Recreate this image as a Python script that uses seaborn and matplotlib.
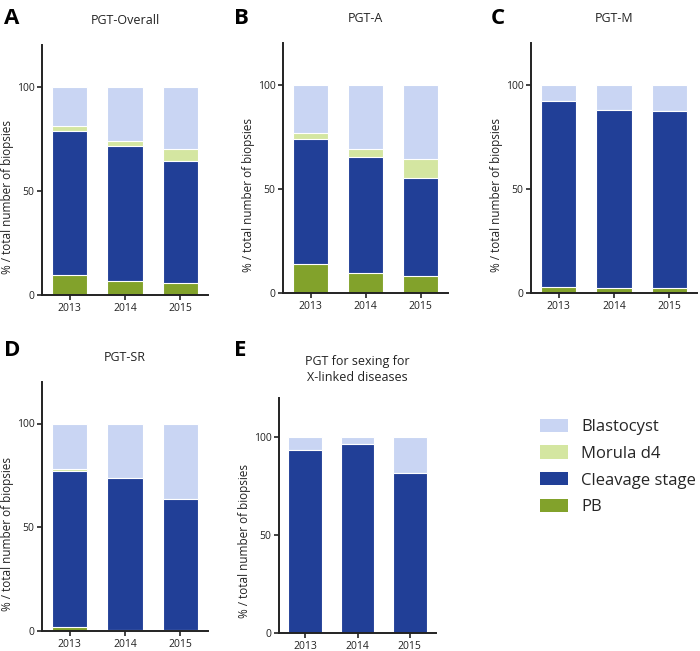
import matplotlib
matplotlib.use("Agg")
import matplotlib.pyplot as plt
from matplotlib.patches import Patch
import seaborn as sns
import pandas as pd
import numpy as np

sns.set_style("white")
plt.rcParams['font.family'] = ['Open Sans', 'DejaVu Sans']

years = ["2013", "2014", "2015"]
stages = ["Blastocyst", "Morula d4", "Cleavage stage", "PB"]
colors = {"Blastocyst": "#C9D5F3", "Morula d4": "#D4E6A1",
          "Cleavage stage": "#213F97", "PB": "#82A22B"}

# Panel A: PGT-Overall
A_pb = [9.6, 6.8, 5.6]
A_cleavage = [69.3, 64.9, 58.5]
A_morula = [2.0, 2.1, 5.8]
A_blastocyst = [19.1, 26.2, 30.1]
# Panel B: PGT-A
B_pb = [14.1, 9.8, 8.3]
B_cleavage = [59.9, 55.7, 46.8]
B_morula = [3.0, 3.4, 9.1]
B_blastocyst = [23.0, 31.1, 35.8]
# Panel C: PGT-M
C_pb = [3.0, 2.6, 2.6]
C_cleavage = [89.0, 85.2, 84.9]
C_morula = [0.0, 0.0, 0.0]
C_blastocyst = [8.0, 12.2, 12.5]
# Panel D: PGT-SR
D_pb = [2.1, 0.6, 0.6]
D_cleavage = [75.2, 73.0, 63.2]
D_morula = [1.0, 0.0, 0.0]
D_blastocyst = [21.7, 26.4, 36.2]
# Panel E: PGT for sexing for X-linked diseases
E_pb = [0.0, 0.0, 0.0]
E_cleavage = [93.5, 96.4, 81.7]
E_morula = [0.0, 0.0, 0.0]
E_blastocyst = [6.5, 3.6, 18.3]

panels = [
    ("A", "PGT-Overall", A_pb, A_cleavage, A_morula, A_blastocyst),
    ("B", "PGT-A", B_pb, B_cleavage, B_morula, B_blastocyst),
    ("C", "PGT-M", C_pb, C_cleavage, C_morula, C_blastocyst),
    ("D", "PGT-SR", D_pb, D_cleavage, D_morula, D_blastocyst),
    ("E", "PGT for sexing for\nX-linked diseases", E_pb, E_cleavage, E_morula, E_blastocyst),
]

W, H = 700, 651
fig = plt.figure(figsize=(7.0, 6.51), dpi=100)

# axes rects in pixels: left, top, right, bottom
rects = {
    "A": (42, 45, 208, 295),
    "B": (283, 43, 448, 293),
    "C": (531, 43, 697, 293),
    "D": (42, 382, 208, 631),
    "E": (279, 398, 436, 633),
}
letter_pos = {"A": (4, 8), "B": (234, 8), "C": (491, 8), "D": (4, 340), "E": (234, 340)}

for letter, title, pb, cl, mo, bl in panels:
    l, t, r, b = rects[letter]
    ax = fig.add_axes([l / W, 1 - b / H, (r - l) / W, (b - t) / H])
    df = pd.DataFrame({"year": years, "PB": pb, "Cleavage stage": cl,
                       "Morula d4": mo, "Blastocyst": bl})
    df["c_pb"] = df["PB"]
    df["c_cl"] = df["c_pb"] + df["Cleavage stage"]
    df["c_mo"] = df["c_cl"] + df["Morula d4"]
    df["c_bl"] = df["c_mo"] + df["Blastocyst"]
    for col, st in [("c_bl", "Blastocyst"), ("c_mo", "Morula d4"),
                    ("c_cl", "Cleavage stage"), ("c_pb", "PB")]:
        sns.barplot(data=df, x="year", y=col, color=colors[st], ax=ax,
                    width=0.64, edgecolor="white", linewidth=0.8,
                    errorbar=None, saturation=1)
    ax.set_xlim(-0.5, 2.5)
    ax.set_ylim(0, 120)
    ax.set_yticks([0, 50, 100])
    ax.set_xlabel("")
    ax.set_ylabel("% / total number of biopsies", fontsize=8.5, color="#222222")
    ax.yaxis.set_label_coords(-28 / (r - l), 0.39)
    sns.despine(ax=ax)
    for s in ["left", "bottom"]:
        ax.spines[s].set_linewidth(1.4)
        ax.spines[s].set_color("#222222")
    ax.tick_params(axis="both", labelsize=7.5, length=3.5, width=1.2,
                   colors="#222222", left=True, bottom=True, pad=2)
    ax.set_title(title, fontsize=9, pad=15 if letter != "E" else 12,
                 color="#222222", linespacing=1.35)
    lx, ly = letter_pos[letter]
    fig.text(lx / W, 1 - ly / H, letter, fontsize=16, fontweight="bold",
             va="top", ha="left", color="black")

handles = [Patch(facecolor=colors[s], edgecolor="none", label=s) for s in stages]
fig.legend(handles=handles, loc="upper left", bbox_to_anchor=(533 / W, 1 - 412 / H),
           frameon=False, fontsize=12, handlelength=1.7, handleheight=0.85,
           labelspacing=0.62, handletextpad=0.8, borderaxespad=0)

fig.savefig("out.png", dpi=100)
